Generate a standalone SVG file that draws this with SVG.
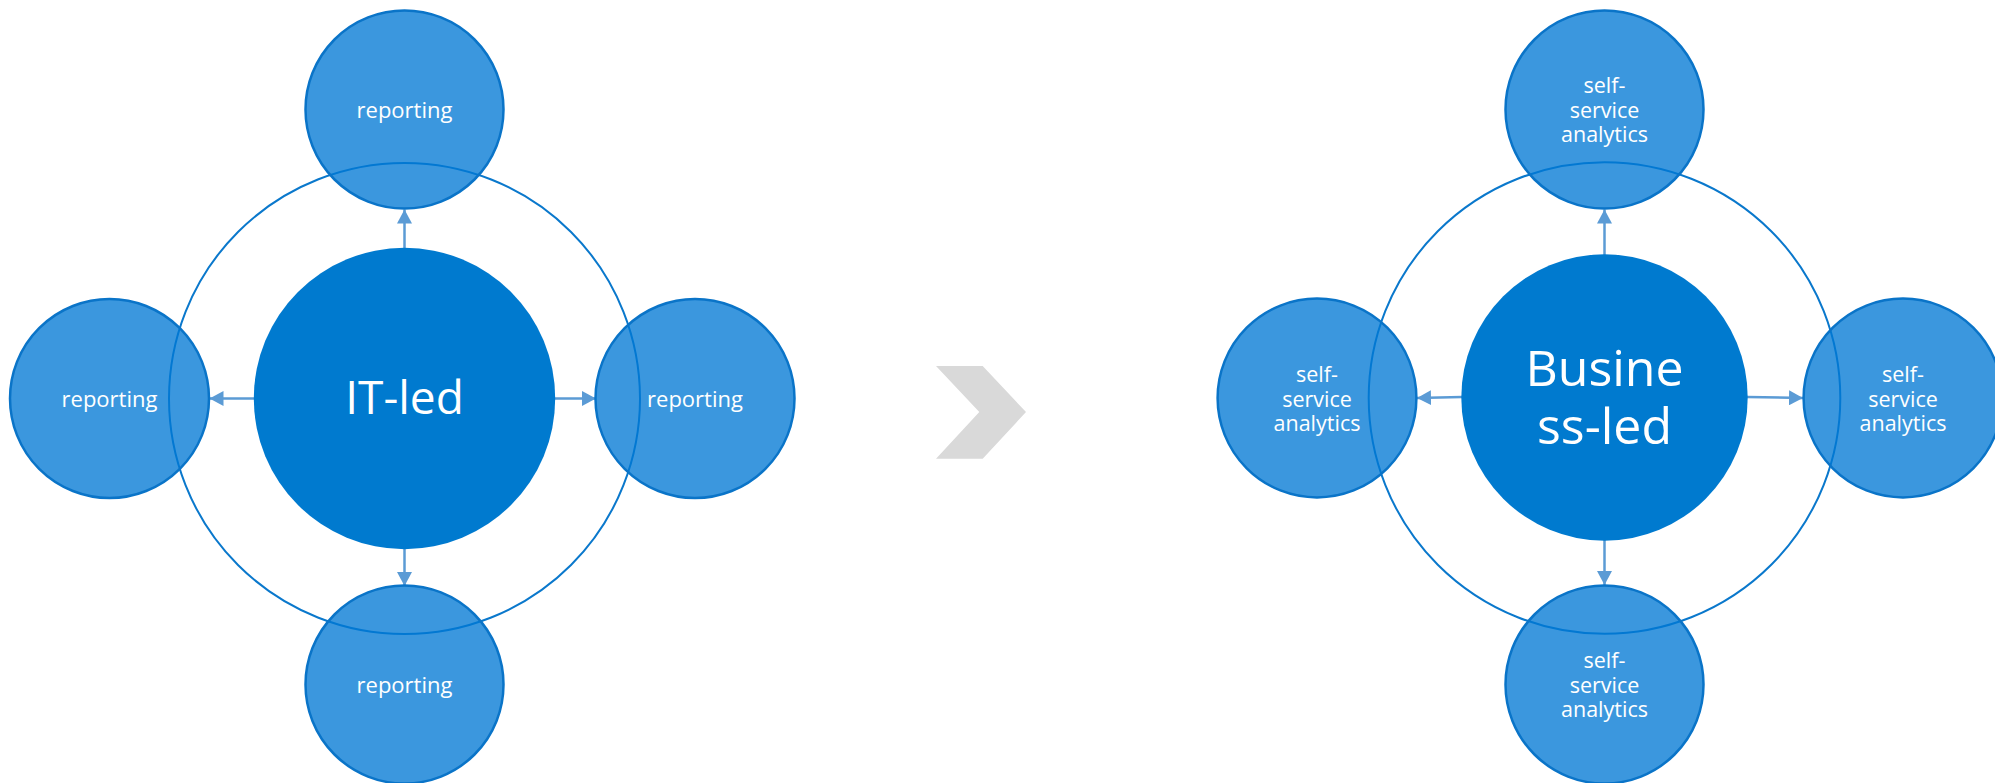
<svg xmlns="http://www.w3.org/2000/svg" width="1995" height="783" viewBox="0 0 1995 783">
<defs>
<style>
.ring{fill:none;stroke:#0A78CC;stroke-width:2}
.hub{fill:#007ACF;stroke:none}
.sat{fill:#0078D4;fill-opacity:0.77;stroke:#0A74C8;stroke-width:2.5}
.conn{stroke:#5B9BD5;stroke-width:2.5;fill:none;marker-end:url(#ah)}
.t{font-family:"Open Sans","Noto Sans","DejaVu Sans",sans-serif;fill:#fff;text-anchor:middle}
.s{font-size:22px}
.m{font-size:21.5px}
.b{font-size:46px}
.c{font-size:50px}
</style>
<marker id="ah" markerUnits="userSpaceOnUse" markerWidth="15" markerHeight="15" refX="14" refY="7.5" orient="auto" viewBox="0 0 15 15">
<path d="M0,0 L14,7.5 L0,15 z" fill="#5B9BD5"/>
</marker>
</defs>
<rect width="1995" height="783" fill="#fff"/>

<g id="left-ring"><circle class="ring" cx="404.5" cy="398.5" r="235.5"/></g>
<g id="right-ring"><circle class="ring" cx="1604.5" cy="398" r="235.8"/></g>

<g id="connectors">
<line class="conn" x1="404.5" y1="249" x2="404.5" y2="209.5"/>
<line class="conn" x1="254" y1="398.5" x2="209.5" y2="398.5"/>
<line class="conn" x1="555" y1="398.5" x2="596" y2="398.5"/>
<line class="conn" x1="404.5" y1="548" x2="404.5" y2="586"/>
<line class="conn" x1="1604.5" y1="255" x2="1604.5" y2="209.5"/>
<line class="conn" x1="1462" y1="397" x2="1417" y2="398"/>
<line class="conn" x1="1747" y1="397" x2="1803" y2="398"/>
<line class="conn" x1="1604.5" y1="540" x2="1604.5" y2="585"/>
</g>

<g id="it-led"><circle class="hub" cx="404.5" cy="398.5" r="150.7"/><text class="t b" x="404.5" y="414">IT-led</text></g>
<g id="rep-top"><circle class="sat" cx="404.5" cy="109.5" r="99"/><text class="t s" x="404.5" y="117.5">reporting</text></g>
<g id="rep-left"><circle class="sat" cx="109.5" cy="398.5" r="99.5"/><text class="t s" x="109.5" y="406.5">reporting</text></g>
<g id="rep-right"><circle class="sat" cx="695" cy="398.5" r="99.5"/><text class="t s" x="695" y="406.5">reporting</text></g>
<g id="rep-bottom"><circle class="sat" cx="404.5" cy="684.5" r="99"/><text class="t s" x="404.5" y="692.5">reporting</text></g>

<g id="chevron"><polygon points="936,366 982.7,366 1026,412 982.7,458.7 936,458.7 979.3,412" fill="#D9D9D9"/></g>

<g id="business-led"><circle class="hub" cx="1604.5" cy="397.5" r="143.2"/><text class="t c" x="1604.5" y="385.5">Busine</text><text class="t c" x="1604.5" y="443.5">ss-led</text></g>
<g id="ssa-top"><circle class="sat" cx="1604.5" cy="109.5" r="99"/><text class="t m"><tspan x="1604.5" y="92.5">self-</tspan><tspan x="1604.5" y="118">service</tspan><tspan x="1604.5" y="142">analytics</tspan></text></g>
<g id="ssa-left"><circle class="sat" cx="1317" cy="398" r="99.4"/><text class="t m"><tspan x="1317" y="381.5">self-</tspan><tspan x="1317" y="407">service</tspan><tspan x="1317" y="431">analytics</tspan></text></g>
<g id="ssa-right"><circle class="sat" cx="1903" cy="398" r="99.4"/><text class="t m"><tspan x="1903" y="381.5">self-</tspan><tspan x="1903" y="407">service</tspan><tspan x="1903" y="431">analytics</tspan></text></g>
<g id="ssa-bottom"><circle class="sat" cx="1604.5" cy="684.5" r="99"/><text class="t m"><tspan x="1604.5" y="667.5">self-</tspan><tspan x="1604.5" y="693">service</tspan><tspan x="1604.5" y="717">analytics</tspan></text></g>
</svg>
